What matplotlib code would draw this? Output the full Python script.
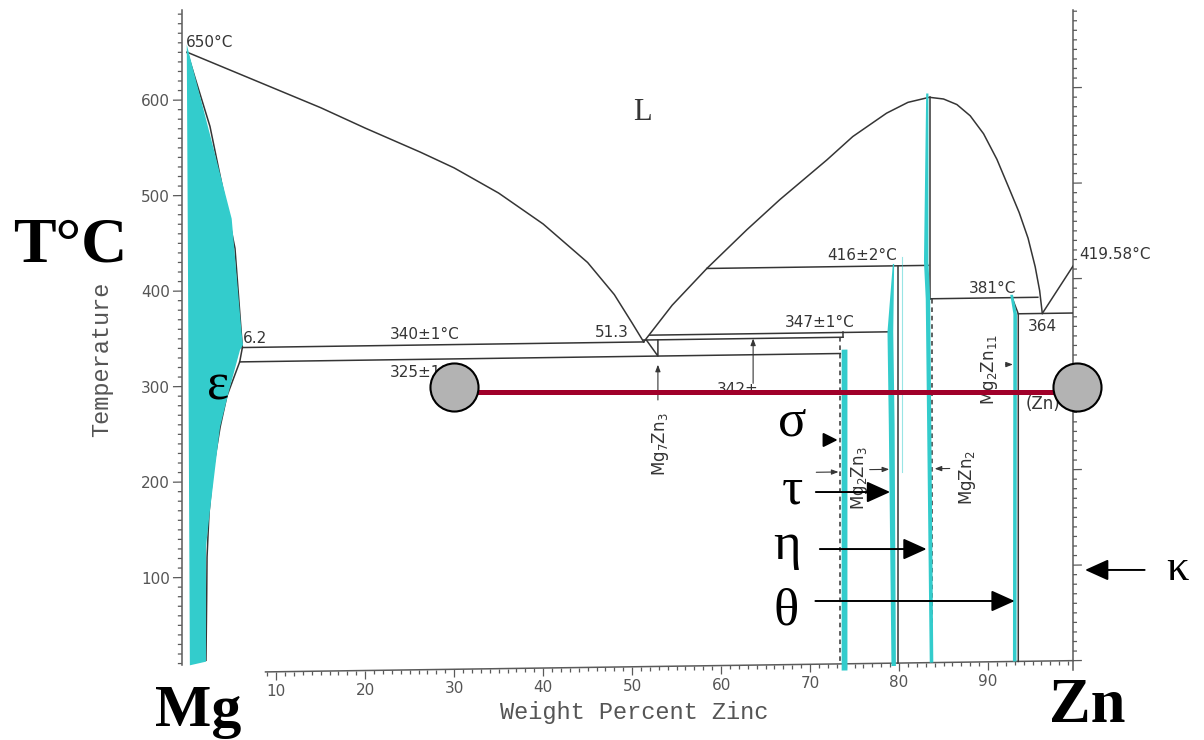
import matplotlib.pyplot as plt
from matplotlib.transforms import Affine2D
from matplotlib.collections import LineCollection
from matplotlib.patches import Polygon, FancyArrowPatch

# Mg-Zn phase diagram: x = weight percent Zn, y = temperature (C)

# liquidus from pure Mg down to the 51.3 % eutectic
liq_mg_x = [0, 5, 10, 15, 20, 26.2, 30, 35, 40, 45, 48, 50, 51.3]
liq_mg_t = [650, 630, 610, 590, 568, 542, 525, 498, 465, 424, 390, 360, 340]

# liquidus from the eutectic over the MgZn2 maximum to the Zn-side eutectic
liq_zn_x = [51.3, 54.5, 58.4, 62.9, 66.6, 71.9, 74.8, 78.6, 81.0, 83.4,
            85.0, 86.5, 88.0, 89.5, 91.0, 92.3, 93.5, 94.5, 95.3, 95.8, 96.1]
liq_zn_t = [340, 378, 416, 456, 487, 528, 552, 576, 587, 592,
            590, 584, 572, 553, 526, 497, 470, 443, 413, 388, 364]

# Zn liquidus up to the melting point of zinc
zn_liq_x = [96.1, 100]
zn_liq_t = [364, 419.58]

# (Mg) solidus and solvus
sol_mg_x = [0, 2.56, 5.37, 6.2]
sol_mg_t = [650, 572, 444, 340]
solvus_mg_x = [6.2, 5.9, 4.45, 3.7, 2.9, 2.45, 2.23, 2.19, 2.11]
solvus_mg_t = [340, 325, 289, 257, 212, 167, 121, 79, 13]

# invariant reactions: (from wt%, to wt%, temperature)
invariants = [(6.2, 51.3, 340), (5.9, 73.4, 325), (51.3, 73.7, 342),
              (52.0, 79.0, 347), (58.4, 83.3, 416), (83.5, 95.6, 381),
              (93.4, 100, 364)]

# intermetallic phases
mg7zn3_x = [51.6, 52.9, 52.9]
mg7zn3_t = [342, 325, 342]
sigma_x = 73.4
sigma_top = 342
mg2zn3_x = 79.9
mg2zn3_top = 416
mgzn2_x = [83.45, 83.45]
mgzn2_t = [592, 381]
mgzn2_low_x = 83.75
mg2zn11_x = [92.7, 93.4, 93.4]
mg2zn11_t = [381, 364, 0]

# shaded single-phase fields
eps_fill_x = [0.3, 0.1, -0.05, 5.0, 6.12, 6.27, 5.93, 4.81, 3.69, 2.56, 2.11, 2.11]
eps_fill_t = [8, 400, 658, 475, 355, 342.7, 337.4, 299, 257, 170, 132, 11.6]
sigma_fill_x = [73.55, 73.55, 74.2, 74.2]
sigma_fill_t = [329, -7, -7, 329]
tau_fill_x = [79.3, 78.7, 78.85, 79.15, 79.65, 79.5, 79.35, 79.45]
tau_fill_t = [418, 347, 250, -3, -3, 250, 347, 418]
eta_fill_x = [83.05, 82.8, 83.0, 83.45, 83.85, 83.5, 83.3, 83.3]
eta_fill_t = [596, 420, 381, 0, 0, 381, 420, 596]
theta_fill_x = [92.5, 92.8, 93.25, 93.2, 92.8, 92.85]
theta_fill_t = [384, 384, 364, 0, 0, 364]

# tie line at about 300 C
tie_x = [30, 100]
tie_t = 294
end_t = 300

t_ticks = [100, 200, 300, 400, 500, 600]
x_ticks = [10, 20, 30, 40, 50, 60, 70, 80, 90]

ink = '#353535'
axis_grey = '#5a5a5a'
cyan = '#33CCCC'

fig = plt.figure(figsize=(12.04, 7.4), dpi=100)
ax = fig.add_axes([181 / 1204, 67 / 740, 892 / 1204, 668.5 / 740])
ax.set_xlim(-0.697, 99.55)
ax.set_ylim(0, 700)
ax.set_axis_off()

# the diagram leans slightly: temperature lines rise 0.13 C per wt%
lean = 0.13
tr = Affine2D().from_values(1, lean, 0, 1, 0, 0) + ax.transData


def line(xs, ts, **kw):
    kw.setdefault('color', ink)
    kw.setdefault('lw', 1.1)
    ax.plot(xs, ts, transform=tr, zorder=2, **kw)


def shade(xs, ts):
    ax.add_patch(Polygon(list(zip(xs, ts)), closed=True, facecolor=cyan,
                         edgecolor='none', transform=tr, zorder=3))


def label(x, t, s, **kw):
    kw.setdefault('fontsize', 11)
    kw.setdefault('color', ink)
    ax.text(x, t, s, transform=tr, clip_on=False, zorder=4, **kw)


def arrow(x0, t0, x1, t1, transform, hl=14.4, hw=6.5, lw=1.4, color='black', z=7):
    ax.add_patch(FancyArrowPatch((x0, t0), (x1, t1), transform=transform,
                                 arrowstyle=f'-|>,head_length={hl},head_width={hw}',
                                 mutation_scale=1, color=color, lw=lw,
                                 shrinkA=0, shrinkB=0, clip_on=False, zorder=z))


# axes frame and ticks
x_left, x_right = -0.6, 99.55
ax.plot([x_left, x_left], [8, 694], color=axis_grey, lw=1.1, transform=tr, clip_on=False)
ax.plot([x_right, x_right], [-10, 681], color=axis_grey, lw=1.1, transform=tr, clip_on=False)
ax.plot([8.8, x_right], [0, 0], color=axis_grey, lw=1.1, transform=tr, clip_on=False)

segs = []
for t in range(10, 700, 10):
    n = 1.0 if t % 100 == 0 else 0.45
    segs.append([(x_left - n, t), (x_left, t)])
for t in range(0, 690, 10):
    n = 1.0 if t % 100 == 0 else 0.45
    segs.append([(x_right, t), (x_right + n, t)])
for w in range(9, 100):
    n = 8.4 if w % 10 == 0 else 4.2
    segs.append([(w, 0), (w, -n)])
ax.add_collection(LineCollection(segs, colors=axis_grey, linewidths=0.9,
                                 transform=tr, clip_on=False))

for t in t_ticks:
    ax.text(-1.95, t, str(t), transform=tr, ha='right', va='center_baseline',
            fontsize=11, color='#555555', clip_on=False)
for w in x_ticks:
    ax.text(w, -19, str(w), transform=tr, ha='center', va='center_baseline',
            fontsize=11, color='#555555', clip_on=False)

ax.text(-9.6, 328, 'Temperature', rotation=90, ha='center', va='center',
        family='Liberation Mono', fontsize=17, color='#555555', clip_on=False)
ax.text(50.2, -41, 'Weight Percent Zinc', ha='center', va='center',
        family='Liberation Mono', fontsize=17, color='#555555', clip_on=False)

# phase boundaries
line(liq_mg_x, liq_mg_t)
line(liq_zn_x, liq_zn_t)
line(zn_liq_x, zn_liq_t)
line(sol_mg_x, sol_mg_t)
line(solvus_mg_x, solvus_mg_t)
for x0, x1, t in invariants:
    line([x0, x1], [t, t])
line(mg7zn3_x, mg7zn3_t)
line([73.7, 73.7], [342, 347])
line([sigma_x, sigma_x], [sigma_top, 0], ls=(0, (3, 2.5)))
line([mg2zn3_x, mg2zn3_x], [mg2zn3_top, 0])
line([80.3, 80.3], [425, 200], color=cyan, lw=0.8, alpha=0.5)
line(mgzn2_x, mgzn2_t)
line([mgzn2_low_x, mgzn2_low_x], [381, 0], ls=(0, (3, 2.5)))
line(mg2zn11_x, mg2zn11_t)

shade(eps_fill_x, eps_fill_t)
shade(sigma_fill_x, sigma_fill_t)
shade(tau_fill_x, tau_fill_t)
shade(eta_fill_x, eta_fill_t)
shade(theta_fill_x, theta_fill_t)

# small pointers to the narrow compounds
arrow(52.9, 279, 52.9, 316, tr, hl=4, hw=1.5, lw=0.8, color=ink, z=4)
arrow(63.6, 295, 63.6, 342, tr, hl=4, hw=1.5, lw=0.8, color=ink, z=4)
arrow(70.7, 201, 73.2, 201, tr, hl=4, hw=1.5, lw=0.8, color=ink, z=4)
arrow(76.7, 203, 78.9, 203, tr, hl=4, hw=1.5, lw=0.8, color=ink, z=4)
arrow(85.7, 203, 84.0, 203, tr, hl=4, hw=1.5, lw=0.8, color=ink, z=4)
arrow(92.0, 311, 92.8, 311, tr, hl=4, hw=1.5, lw=0.8, color=ink, z=4)

# temperatures and compositions written on the diagram
label(-0.2, 660, '650°C', ha='left', va='center')
label(6.3, 349, '6.2', ha='left', va='center')
label(22.8, 351, '340±1°C', ha='left', va='center')
label(22.8, 311.7, '325±1°C', ha='left', va='center')
label(49.6, 350, '51.3', ha='right', va='center')
label(67.2, 357.8, '347±1°C', ha='left', va='center')
label(71.9, 427.9, '416±2°C', ha='left', va='center')
label(87.8, 391.7, '381°C', ha='left', va='center')
label(94.5, 351, '364', ha='left', va='center')
label(100.3, 424.7, '419.58°C', ha='left', va='center')
label(59.5, 284.4, '342±', ha='left', va='baseline')
label(94.2, 269.5, '(Zn)', ha='left', va='center', fontsize=12)
label(51.2, 580.7, 'L', ha='center', va='center', family='Liberation Serif', fontsize=22)
label(53.2, 232.9, r'Mg$_7$Zn$_3$', rotation=90, ha='center', va='center', fontsize=12)
label(75.5, 193.9, r'Mg$_2$Zn$_3$', rotation=90, ha='center', va='center', fontsize=12)
label(87.7, 193.3, r'MgZn$_2$', rotation=90, ha='center', va='center', fontsize=12)
label(90.2, 305.6, r'Mg$_2$Zn$_{11}$', rotation=90, ha='center', va='center', fontsize=12)

# tie line with its two end points
ax.plot(tie_x, [tie_t, tie_t], color='#A0002A', lw=3.6, solid_capstyle='butt',
        clip_on=False, zorder=5)
ax.plot(tie_x, [end_t, end_t], 'o', ms=34.6, mfc='#b3b3b3', mec='black', mew=1.5,
        clip_on=False, zorder=6)

# phase names
serif = 'Liberation Serif'
for x, t, s, size in [(3.46, 286.9, 'ε', 38), (68.0, 248.2, 'σ', 38),
                      (68.0, 177.0, 'τ', 38), (67.4, 119.4, 'η', 38),
                      (67.3, 51.3, 'θ', 38), (111.3, 97.4, 'κ', 32)]:
    ax.text(x, t, s, family=serif, fontsize=size, ha='center', va='baseline',
            color='black', clip_on=False, zorder=7)

arrow(71.8, 244, 73.1, 244, ax.transData, hl=8.6, hw=4.3)
arrow(70.65, 189.5, 79.0, 189.5, ax.transData)
arrow(71.1, 129.8, 83.1, 129.8, ax.transData)
arrow(70.6, 75.4, 93.0, 75.4, ax.transData)
arrow(107.6, 107.9, 100.9, 107.9, ax.transData)

ax.text(-13.2, 430.4, 'T°C', family=serif, weight='bold', fontsize=46,
        ha='center', va='baseline', clip_on=False)
ax.text(1.2, -56.0, 'Mg', family=serif, weight='bold', fontsize=43,
        ha='center', va='baseline', clip_on=False)
ax.text(101.1, -51.3, 'Zn', family=serif, weight='bold', fontsize=45,
        ha='center', va='baseline', clip_on=False)

fig.savefig('out.png', dpi=100)
